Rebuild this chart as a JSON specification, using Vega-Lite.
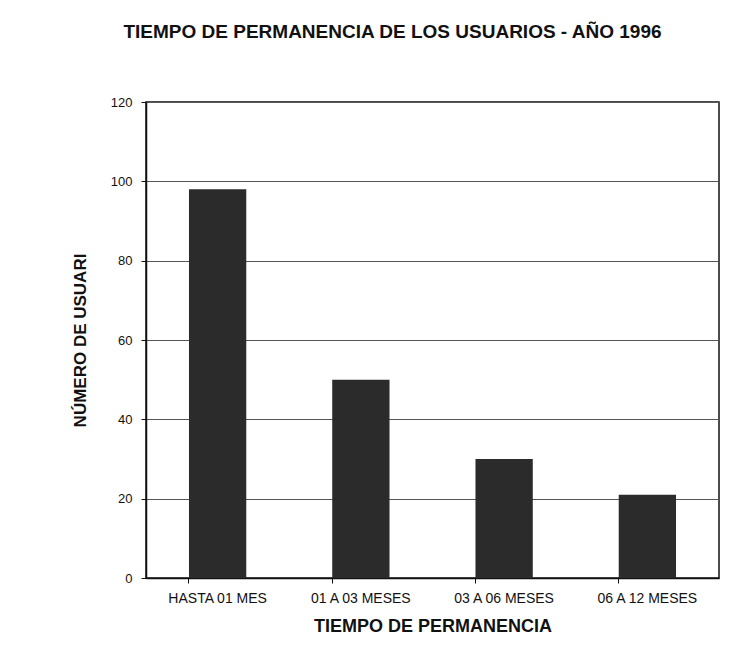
{
  "$schema": "https://vega.github.io/schema/vega-lite/v6.json",
  "autosize": "none",
  "width": 573,
  "height": 476,
  "padding": {"left": 146, "top": 102, "right": 30, "bottom": 75},
  "background": "white",
  "title": {
    "text": "TIEMPO DE PERMANENCIA DE LOS USUARIOS - AÑO 1996",
    "font": "Liberation Sans",
    "fontSize": 19,
    "fontWeight": "bold",
    "color": "#111",
    "anchor": "middle",
    "dx": -40,
    "offset": 54
  },
  "data": {
    "values": [
      {"tiempo": "HASTA 01 MES", "usuarios": 98},
      {"tiempo": "01 A 03 MESES", "usuarios": 50},
      {"tiempo": "03 A 06 MESES", "usuarios": 30},
      {"tiempo": "06 A 12 MESES", "usuarios": 21}
    ]
  },
  "mark": {"type": "bar", "color": "#2b2b2b"},
  "encoding": {
    "x": {
      "field": "tiempo",
      "type": "nominal",
      "sort": null,
      "scale": {"paddingInner": 0.6, "paddingOuter": 0.3},
      "axis": {
        "title": "TIEMPO  DE  PERMANENCIA",
        "titleFont": "Liberation Sans",
        "titleFontSize": 18,
        "titleFontWeight": "bold",
        "titleColor": "#111",
        "titlePadding": 12,
        "labelFont": "Liberation Sans",
        "labelFontSize": 14,
        "labelColor": "#111",
        "labelAngle": 0,
        "labelPadding": 8,
        "domainColor": "#111",
        "domainWidth": 1.5,
        "tickColor": "#111",
        "tickSize": 5,
        "bandPosition": 0
      }
    },
    "y": {
      "field": "usuarios",
      "type": "quantitative",
      "scale": {"domain": [0, 120]},
      "axis": {
        "title": "NÚMERO DE USUARI",
        "titleFont": "Liberation Sans",
        "titleFontSize": 17,
        "titleFontWeight": "bold",
        "titleColor": "#111",
        "titlePadding": 21,
        "labelFont": "Liberation Sans",
        "labelFontSize": 13,
        "labelColor": "#111",
        "labelPadding": 9,
        "values": [0, 20, 40, 60, 80, 100, 120],
        "domainColor": "#111",
        "domainWidth": 1.5,
        "tickColor": "#111",
        "tickSize": 5,
        "grid": true,
        "gridColor": "#555",
        "gridWidth": 1
      }
    }
  },
  "config": {
    "view": {"stroke": "#111", "strokeWidth": 1.5}
  }
}
